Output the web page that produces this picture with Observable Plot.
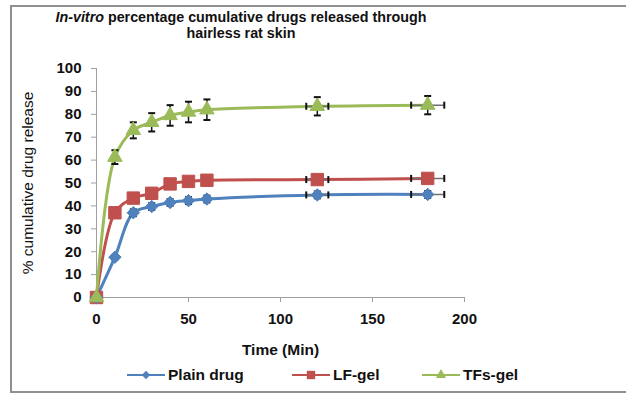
<!DOCTYPE html>
<html><head><meta charset="utf-8">
<script src="https://cdn.jsdelivr.net/npm/d3@7"></script>
<script src="https://cdn.jsdelivr.net/npm/@observablehq/plot@0.6"></script>
<style>
body{margin:0;background:#fff;font-family:"Liberation Sans",Arial,sans-serif;}
#wrap{position:relative;width:626px;height:397px;overflow:hidden;}
#frame{position:absolute;left:10px;top:5px;width:660px;height:388px;border:2px solid #8f8f8f;box-sizing:border-box;}
#title{position:absolute;left:0;top:9px;width:482px;text-align:center;font-weight:bold;font-size:14.3px;line-height:16px;color:#111;}
#chart{position:absolute;left:0;top:50px;}
#legend{position:absolute;top:365px;left:0;width:626px;height:20px;font-weight:bold;font-size:15.5px;color:#111;}
.item{position:absolute;top:0;display:flex;align-items:center;height:20px;}
.item svg{margin-right:3px;}
</style></head>
<body>
<div id="wrap">
<div id="frame"></div>
<div id="title"><i>In-vitro</i> percentage cumulative drugs released through<br>hairless rat skin</div>
<div id="chart"></div>
<div id="legend"></div>
</div>
<script>
const times = [0, 10, 20, 30, 40, 50, 60, 120, 180];
const seriesNames = ["Plain drug", "LF-gel", "TFs-gel"];
const plainDrug = [0, 17.6, 37, 39.7, 41.5, 42.3, 43, 44.8, 45];
const lfGel = [0, 37, 43.4, 45.5, 49.6, 50.7, 51.2, 51.5, 52];
const tfsGel = [0, 61.3, 73, 76.5, 79.5, 81, 82, 83.5, 84];
const plainErr = [0, 1, 1.5, 1.5, 1.5, 1.5, 1.5, 1.5, 1.5];
const lfErr = [0, 1, 1, 1, 1, 1, 1, 1, 1];
const tfsErr = [0, 3, 3.5, 4, 4.5, 4.5, 4.5, 4, 4];
const timeErr = [0, 0, 0, 0, 0, 0, 0, 6, 9];
const xTicks = [0, 50, 100, 150, 200];
const yTicks = [0, 10, 20, 30, 40, 50, 60, 70, 80, 90, 100];
const colors = ["#4f81bd", "#c0504d", "#9bbb59"];
const symbols = ["diamond2", "square", "triangle"];
const markerR = [5.6, 7, 5.4];

const values = [plainDrug, lfGel, tfsGel];
const errs = [plainErr, lfErr, tfsErr];
const data = [];
seriesNames.forEach((s, i) => times.forEach((t, j) => data.push({
  series: s, time: t, value: values[i][j], err: errs[i][j], terr: timeErr[j], r: markerR[i]
})));
const yErrData = data.filter(d => d.err > 0);
const xErrData = data.filter(d => d.terr > 0);

const hCap = {draw(ctx, size) { ctx.moveTo(-3.5, 0); ctx.lineTo(3.5, 0); }};
const vCap = {draw(ctx, size) { ctx.moveTo(0, -3.5); ctx.lineTo(0, 3.5); }};

const plot = Plot.plot({
  width: 626,
  height: 320,
  marginLeft: 96,
  marginRight: 162,
  marginTop: 18,
  marginBottom: 73,
  style: {fontFamily: "Liberation Sans, Arial, sans-serif", fontWeight: "bold", fontSize: "13px", color: "#111", overflow: "visible"},
  x: {domain: [0, 200], ticks: xTicks},
  y: {domain: [0, 100], ticks: yTicks},
  r: {type: "identity"},
  color: {domain: seriesNames, range: colors},
  symbol: {domain: seriesNames, range: symbols},
  marks: [
    Plot.ruleY([0], {stroke: "#a0a0a0", strokeWidth: 1}),
    Plot.ruleX([0], {stroke: "#a0a0a0", strokeWidth: 1}),
    Plot.axisX({ticks: xTicks, tickSize: 5, tickPadding: 11, stroke: "#a0a0a0", fill: "#111", fontSize: 15, label: null}),
    Plot.axisY({ticks: yTicks, tickSize: 5, tickPadding: 10, stroke: "#a0a0a0", fill: "#111", fontSize: 15, label: null}),
    Plot.text(["Time (Min)"], {frameAnchor: "bottom", dy: 53, x: 100, fontSize: 15.5, fill: "#111", textAnchor: "middle", lineAnchor: "middle"}),
    Plot.text(["% cumulative drug release"], {x: 0, y: 50, dx: -68, rotate: -90, fontSize: 15.5, fill: "#111", fontWeight: "normal"}),
    Plot.line(data, {x: "time", y: "value", z: "series", stroke: "series", strokeWidth: 3, curve: "catmull-rom"}),
    Plot.ruleX(yErrData, {x: "time", y1: d => d.value - d.err, y2: d => d.value + d.err, stroke: "#111", strokeWidth: 1.5}),
    Plot.dot(yErrData, {x: "time", y: d => d.value - d.err, symbol: hCap, stroke: "#111", strokeWidth: 2}),
    Plot.dot(yErrData, {x: "time", y: d => d.value + d.err, symbol: hCap, stroke: "#111", strokeWidth: 2}),
    Plot.ruleY(xErrData, {y: "value", x1: d => d.time - d.terr, x2: d => d.time + d.terr, stroke: "#707070", strokeWidth: 1.5}),
    Plot.dot(xErrData, {x: d => d.time - d.terr, y: "value", symbol: vCap, stroke: "#111", strokeWidth: 2}),
    Plot.dot(xErrData, {x: d => d.time + d.terr, y: "value", symbol: vCap, stroke: "#111", strokeWidth: 2}),
    Plot.dot(data, {x: "time", y: "value", symbol: "series", fill: "series", stroke: "series", strokeWidth: 1, r: "r"})
  ]
});
document.getElementById("chart").appendChild(plot);

// Legend built from the same series names and colours
const legend = document.getElementById("legend");
const legendX = [127, 292, 422];
seriesNames.forEach((s, i) => {
  const item = document.createElement("div");
  item.className = "item";
  item.style.left = legendX[i] + "px";
  const sym = d3.symbol(i === 0 ? d3.symbolDiamond2 : i === 1 ? d3.symbolSquare : d3.symbolTriangle, i === 1 ? 70 : 45)();
  item.innerHTML = `<svg width="38" height="20"><line x1="0" x2="38" y1="10" y2="10" stroke="${colors[i]}" stroke-width="2"/><path d="${sym}" transform="translate(19,10)" fill="${colors[i]}"/></svg><span>${s}</span>`;
  legend.appendChild(item);
});
</script>
</body></html>
